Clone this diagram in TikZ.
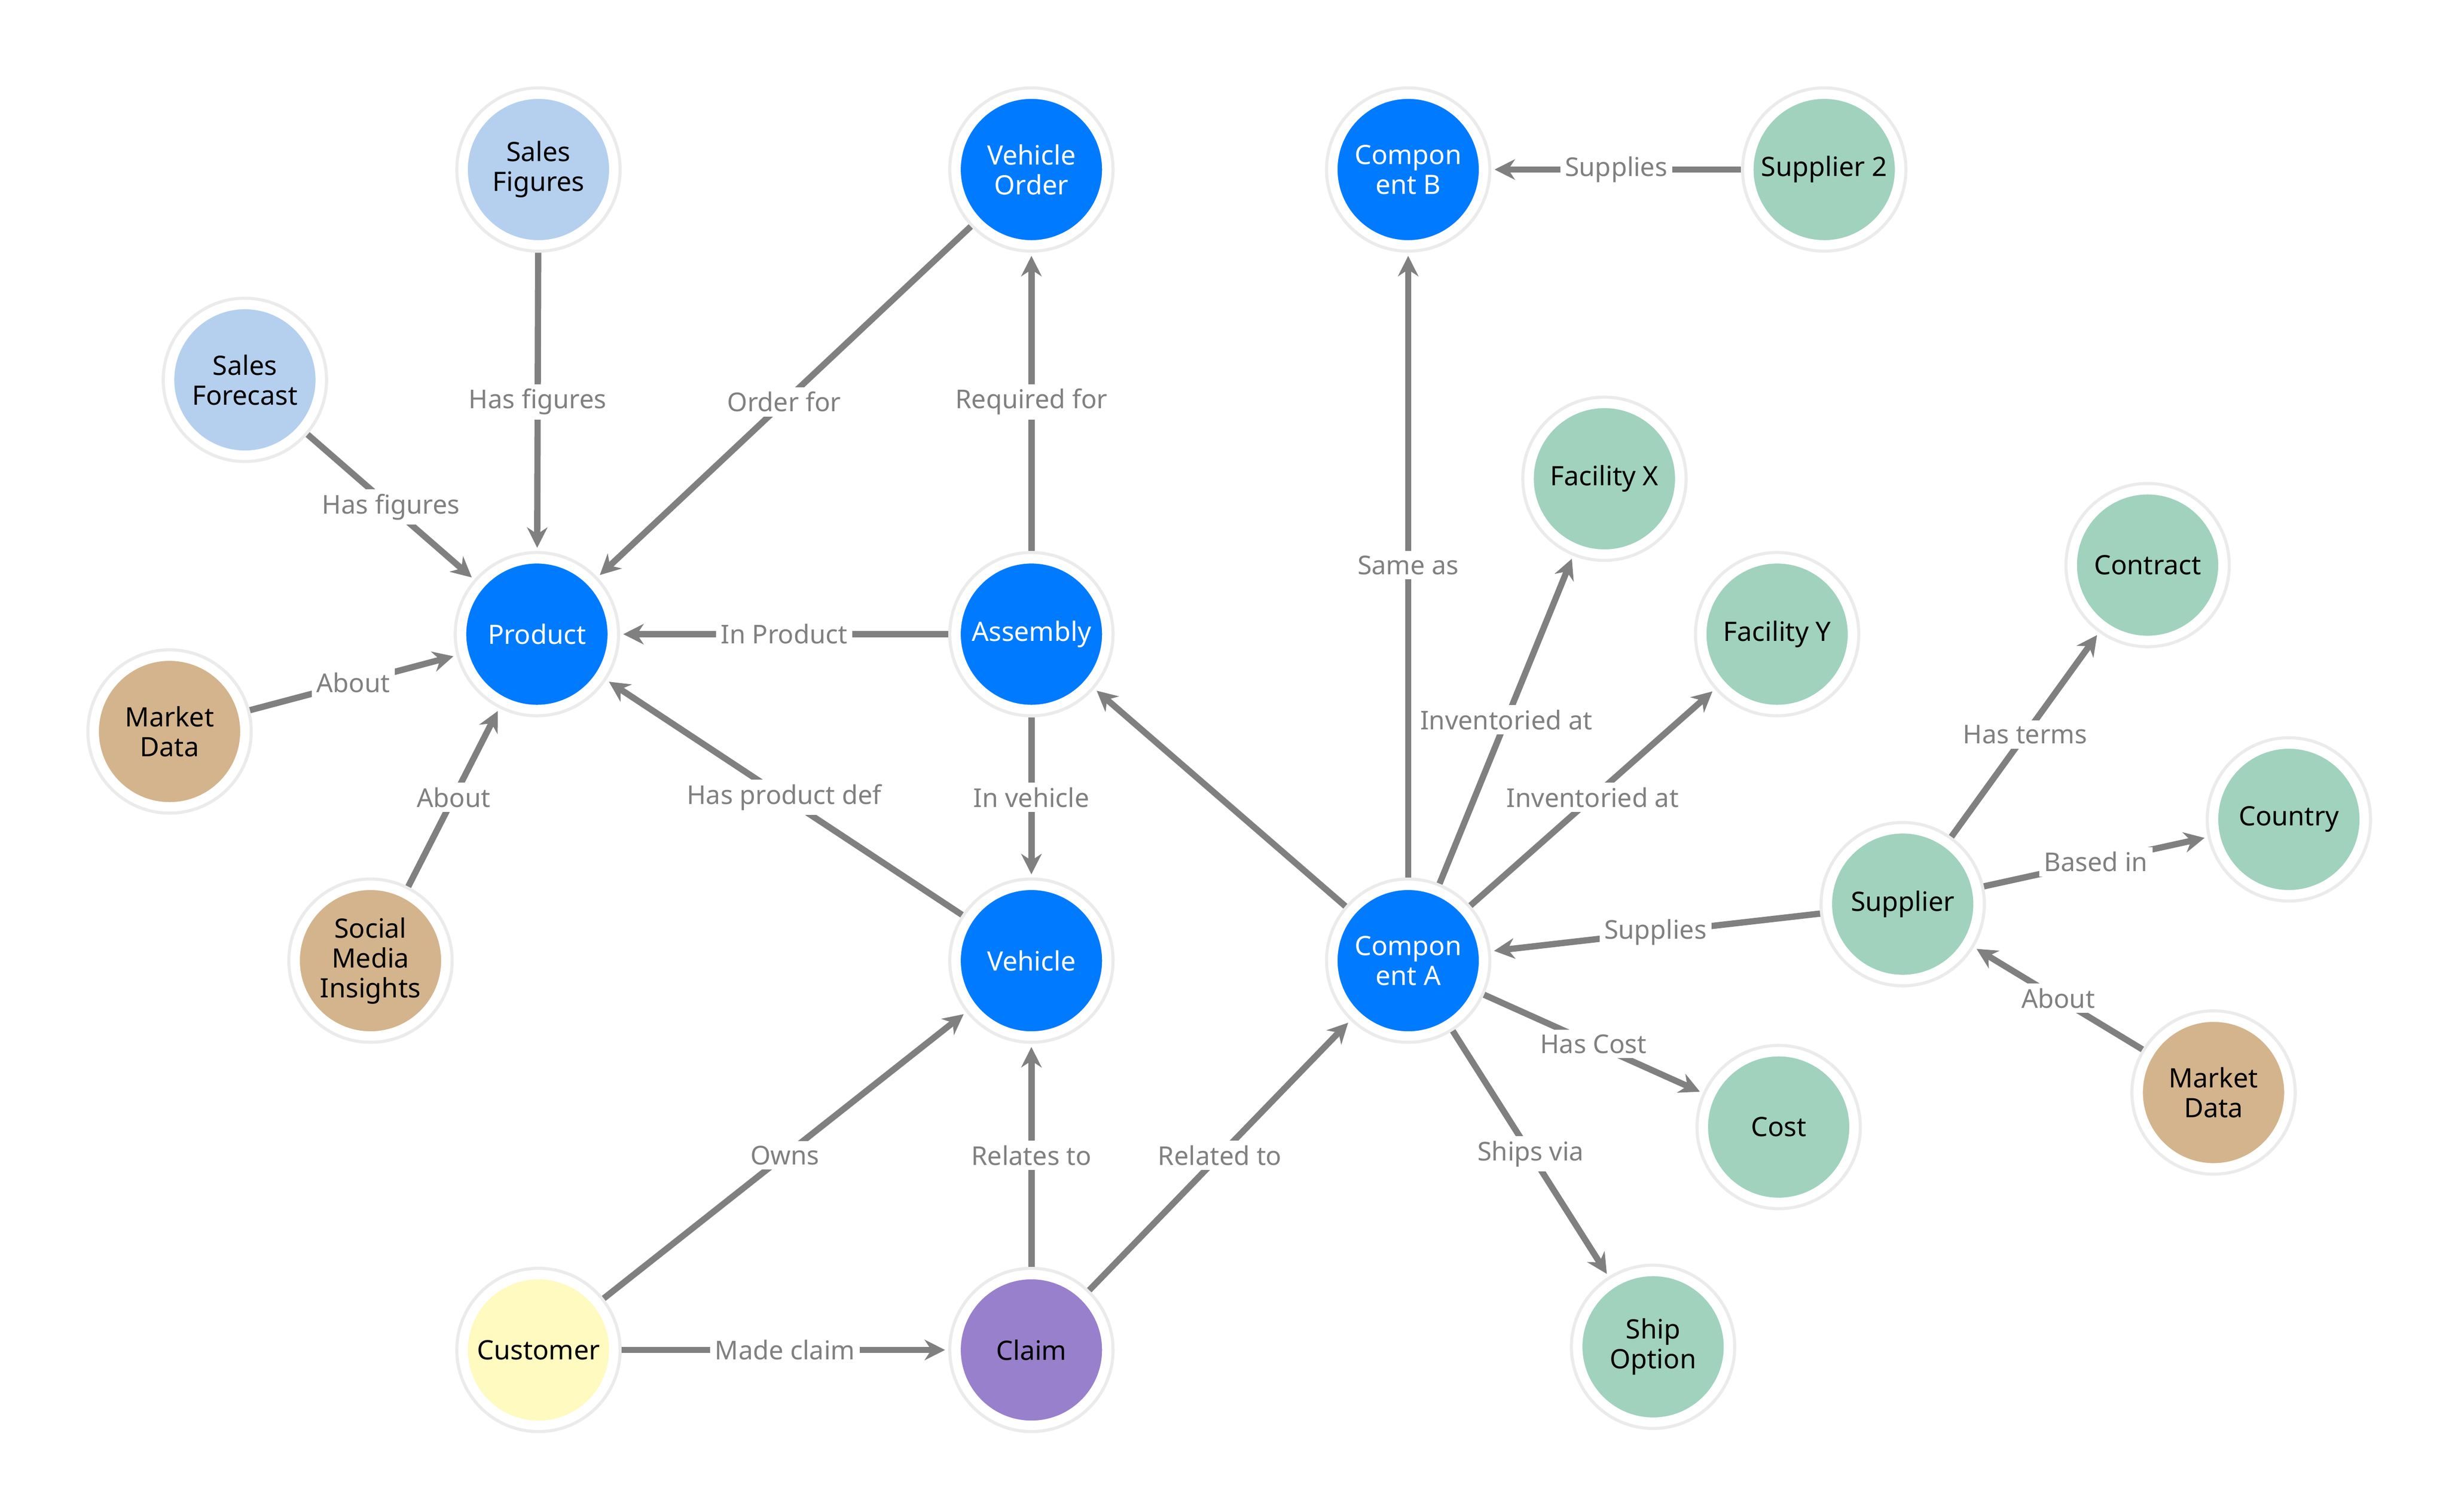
\documentclass[tikz,border=0pt]{standalone}
\usepackage{fontspec}
\setmainfont{Noto Sans}
\usetikzlibrary{arrows.meta}
\definecolor{cblue}{RGB}{0,122,255}
\definecolor{clblue}{RGB}{180,208,238}
\definecolor{cgreen}{RGB}{160,210,190}
\definecolor{ctan}{RGB}{212,180,140}
\definecolor{cyel}{RGB}{255,250,192}
\definecolor{cpur}{RGB}{152,128,204}
\definecolor{cedge}{RGB}{128,128,128}
\begin{document}
\begin{tikzpicture}[x=1pt,y=-1pt,
 nd/.style={circle,minimum size=96pt,inner sep=0pt,align=center,draw=white,line width=6pt,
   preaction={draw=black!8,line width=10pt},font=\fontsize{17}{19}\selectfont,outer sep=5pt},
 bl/.style={nd,fill=cblue,text=white},
 lb/.style={nd,fill=clblue},
 gr/.style={nd,fill=cgreen},
 tn/.style={nd,fill=ctan},
 ed/.style={draw=cedge,line width=4pt,-{Stealth[length=13pt,width=13pt]},shorten >=2pt},
 el/.style={fill=white,text=cedge,font=\fontsize{16.5}{18}\selectfont,inner sep=3pt,midway}]
\useasboundingbox (0,0) rectangle (1560,963);
\node[lb] (sf) at (343,108) {Sales\\Figures};
\node[bl] (vo) at (657,108) {Vehicle\\Order};
\node[bl] (cb) at (897,108) {Compon\\ent B};
\node[gr] (s2) at (1162,108) {Supplier 2};
\node[lb] (fc) at (156,242) {Sales\\Forecast};
\node[gr] (fx) at (1022,305) {Facility X};
\node[gr] (ct) at (1368,360) {Contract};
\node[bl] (pr) at (342,404) {Product};
\node[bl] (as) at (657,404) {Assembly};
\node[gr] (fy) at (1132,404) {Facility Y};
\node[tn] (md) at (108,466) {Market\\Data};
\node[gr] (co) at (1458,522) {Country};
\node[tn] (sm) at (236,612) {Social\\Media\\Insights};
\node[bl] (ve) at (657,612) {Vehicle};
\node[bl] (ca) at (897,612) {Compon\\ent A};
\node[gr] (su) at (1212,576) {Supplier};
\node[gr] (cs) at (1133,718) {Cost};
\node[tn] (m2) at (1410,696) {Market\\Data};
\node[gr] (so) at (1053,858) {Ship\\Option};
\node[nd,fill=cyel] (cu) at (343,860) {Customer};
\node[nd,fill=cpur] (cl) at (657,860) {Claim};
\draw[ed] (sf) -- node[el]{Has figures} (pr);
\draw[ed] (fc) -- node[el]{Has figures} (pr);
\draw[ed] (vo) -- node[el]{Order for} (pr);
\draw[ed] (as) -- node[el]{Required for} (vo);
\draw[ed] (as) -- node[el]{In Product} (pr);
\draw[ed] (as) -- node[el]{In vehicle} (ve);
\draw[ed] (ve) -- node[el]{Has product def} (pr);
\draw[ed] (md) -- node[el]{About} (pr);
\draw[ed] (sm) -- node[el]{About} (pr);
\draw[ed] (s2) -- node[el]{Supplies} (cb);
\draw[ed] (ca) -- node[el]{Same as} (cb);
\draw[ed] (ca) -- node[el]{Inventoried at} (fx);
\draw[ed] (ca) -- node[el]{Inventoried at} (fy);
\draw[ed] (ca) -- (as);
\draw[ed] (su) -- node[el]{Supplies} (ca);
\draw[ed] (su) -- node[el]{Has terms} (ct);
\draw[ed] (su) -- node[el]{Based in} (co);
\draw[ed] (m2) -- node[el]{About} (su);
\draw[ed] (ca) -- node[el]{Has Cost} (cs);
\draw[ed] (ca) -- node[el]{Ships via} (so);
\draw[ed] (cu) -- node[el]{Owns} (ve);
\draw[ed] (cu) -- node[el]{Made claim} (cl);
\draw[ed] (cl) -- node[el]{Relates to} (ve);
\draw[ed] (cl) -- node[el]{Related to} (ca);
\end{tikzpicture}
\end{document}
